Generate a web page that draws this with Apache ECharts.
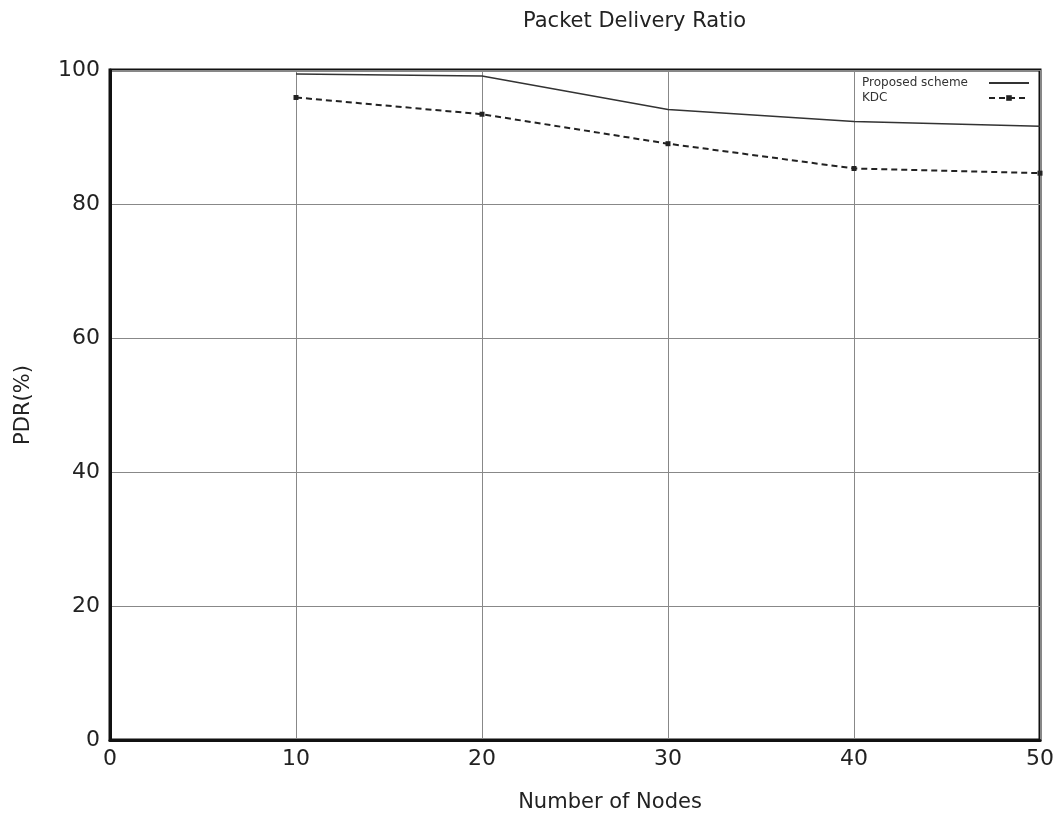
<!DOCTYPE html>
<html>
<head>
<meta charset="utf-8">
<script src="https://cdn.jsdelivr.net/npm/echarts@6/dist/echarts.min.js"></script>
<style>html,body{margin:0;padding:0;background:#fff;}#c{width:1059px;height:818px;}</style>
</head>
<body>
<div id="c"></div>
<script>
const nodes = [10, 20, 30, 40, 50];
const proposed = [99.4, 99.1, 94.1, 92.3, 91.6];
const kdc = [95.9, 93.4, 89.0, 85.3, 84.6];
const seriesNames = ['Proposed scheme', 'KDC'];
const titleText = 'Packet Delivery Ratio';
const xName = 'Number of Nodes';
const yName = 'PDR(%)';

const chart = echarts.init(document.getElementById('c'));
const font = 'DejaVu Sans';
chart.setOption({
  backgroundColor: '#fff',
  animation: false,
  title: {
    text: titleText, left: 518, top: 6,
    textStyle: { fontFamily: font, fontSize: 21, fontWeight: 'normal', color: '#222' }
  },
  legend: {
    orient: 'vertical', right: 24, top: 72, align: 'right', itemGap: 3,
    itemWidth: 40, itemHeight: 7,
    formatter: '{a|{name}}',
    textStyle: {
      fontFamily: font, fontSize: 12, color: '#333',
      rich: { a: { fontFamily: font, fontSize: 12, color: '#333', width: 122, align: 'left' } }
    },
    data: [
      { name: seriesNames[0], itemStyle: { opacity: 0 } },
      { name: seriesNames[1] }
    ]
  },
  grid: {
    left: 110, right: 19, top: 70, bottom: 76,
    show: true, borderColor: '#111', borderWidth: 3, containLabel: false
  },
  xAxis: {
    type: 'value', min: 0, max: 50, interval: 10,
    name: xName, nameLocation: 'middle', nameGap: 52,
    nameTextStyle: { fontFamily: font, fontSize: 21, color: '#222', padding: [0, 0, 0, 70] },
    axisLine: { show: true, lineStyle: { color: '#111', width: 3 } },
    axisTick: { show: false },
    axisLabel: { fontFamily: font, fontSize: 22, color: '#222', margin: 8 },
    splitLine: { show: true, lineStyle: { color: '#888', width: 1 } }
  },
  yAxis: {
    type: 'value', min: 0, max: 100, interval: 20,
    name: yName, nameLocation: 'middle', nameGap: 76, nameRotate: 90,
    nameTextStyle: { fontFamily: font, fontSize: 21, color: '#222' },
    axisLine: { show: true, lineStyle: { color: '#111', width: 3 } },
    axisTick: { show: false },
    axisLabel: { fontFamily: font, fontSize: 22, color: '#222', margin: 10 },
    splitLine: { show: true, lineStyle: { color: '#888', width: 1 } }
  },
  series: [
    {
      name: seriesNames[0], type: 'line',
      data: nodes.map((x, i) => [x, proposed[i]]),
      showSymbol: false, symbol: 'none',
      lineStyle: { color: '#333', width: 1.5, type: 'solid' },
      itemStyle: { color: '#333' }
    },
    {
      name: seriesNames[1], type: 'line',
      data: nodes.map((x, i) => [x, kdc[i]]),
      symbol: 'rect', symbolSize: 5,
      lineStyle: { color: '#222', width: 2, type: [6, 4] },
      itemStyle: { color: '#222' }
    }
  ]
});
</script>
</body>
</html>
